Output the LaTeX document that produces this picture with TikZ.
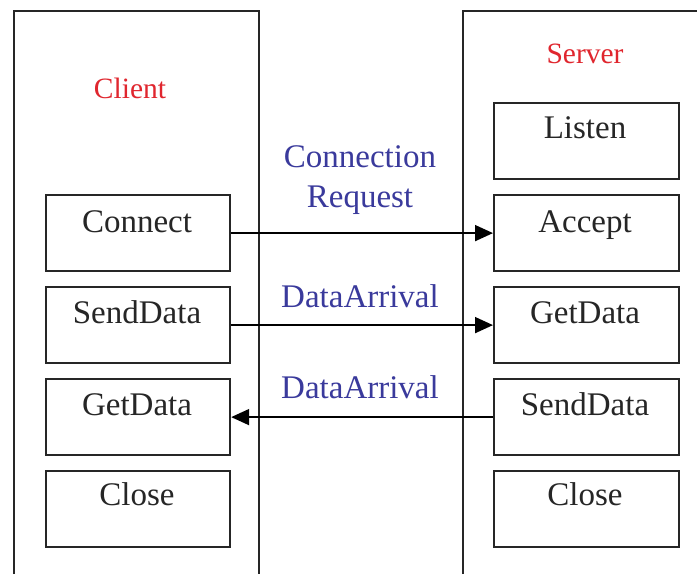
\documentclass[tikz,border=0pt]{standalone}
\usepackage{fontspec}
\setmainfont{Liberation Serif}
\usetikzlibrary{arrows.meta}
\definecolor{boxtext}{HTML}{262626}
\definecolor{titlered}{HTML}{E0262E}
\definecolor{msgblue}{HTML}{3A3A9C}
\tikzset{
  stepbox/.style={draw=black!85, line width=2.2pt, minimum width=184pt, minimum height=76pt, anchor=north west, inner sep=0pt},
  boxlabel/.style={anchor=base, text=boxtext, font=\fontsize{33}{36}\selectfont, inner sep=0pt},
  titlelabel/.style={anchor=base, text=titlered, font=\fontsize{29.5}{32}\selectfont, inner sep=0pt},
  msglabel/.style={anchor=base, text=msgblue, font=\fontsize{33}{36}\selectfont, inner sep=0pt},
  frame/.style={draw=black!85, line width=2.2pt},
  msg/.style={draw=black, line width=1.8pt, -{Triangle[length=18pt,width=16pt]}}
}
\begin{document}
\begin{tikzpicture}[x=1pt,y=-1pt]
\useasboundingbox[fill=white] (0,0) rectangle (697,574);
% outer frames
\draw[frame] (14,574) -- (14,11) -- (259,11) -- (259,574);
\draw[frame] (463,574) -- (463,11) -- (697,11);
\node[titlelabel] (clientT) at (130,98) {Client};
\node[titlelabel] (serverT) at (585,63) {Server};
% client boxes
\node[stepbox] (cConnect) at (45,194) {};
\node[stepbox] (cSend) at (45,286) {};
\node[stepbox] (cGet) at (45,378) {};
\node[stepbox] (cClose) at (45,470) {};
\node[boxlabel] (cConnectT) at (137,232) {Connect};
\node[boxlabel] (cSendT) at (137,323) {SendData};
\node[boxlabel] (cGetT) at (137,415) {GetData};
\node[boxlabel] (cCloseT) at (137,505) {Close};
% server boxes
\node[stepbox, minimum width=185pt] (sListen) at (493,102) {};
\node[stepbox, minimum width=185pt] (sAccept) at (493,194) {};
\node[stepbox, minimum width=185pt] (sGet) at (493,286) {};
\node[stepbox, minimum width=185pt] (sSend) at (493,378) {};
\node[stepbox, minimum width=185pt] (sClose) at (493,470) {};
\node[boxlabel] (sListenT) at (585,138) {Listen};
\node[boxlabel] (sAcceptT) at (585,232) {Accept};
\node[boxlabel] (sGetT) at (585,323) {GetData};
\node[boxlabel] (sSendT) at (585,415) {SendData};
\node[boxlabel] (sCloseT) at (585,505) {Close};
% messages
\node[msglabel] (m1a) at (360,167) {Connection};
\node[msglabel] (m1b) at (360,207) {Request};
\node[msglabel] (m2) at (360,307) {DataArrival};
\node[msglabel] (m3) at (360,398) {DataArrival};
\draw[msg] (cConnect.east) -- (sAccept.west);
\draw[msg] (cSend.east) -- (sGet.west);
\draw[msg] (sSend.west) -- (cGet.east);
\end{tikzpicture}
\end{document}
